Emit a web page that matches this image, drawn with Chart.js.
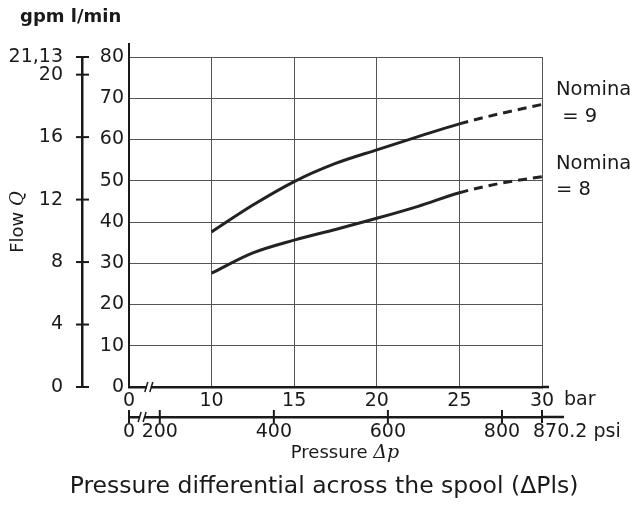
<!DOCTYPE html>
<html>
<head>
<meta charset="utf-8">
<script src="https://cdn.jsdelivr.net/npm/chart.js@4.4.0/dist/chart.umd.min.js"></script>
<style>
  html, body { margin: 0; padding: 0; background: #fff; }
  #flowChart { display: block; }
</style>
</head>
<body>
<canvas id="flowChart" width="630" height="505"></canvas>
<script>
// flow vs pressure drop
const pressureBar = [10, 12.5, 15, 17.5, 20, 22.5, 25, 27.5, 30];
const flowNominal9 = [37.6, 44.1, 49.8, 54.2, 57.5, 60.7, 63.8, 66.3, 68.5];
const flowNominal8 = [27.6, 32.5, 35.6, 38.2, 40.9, 43.8, 47.1, 49.4, 51.0];
const dashedFrom = 25; // curves are dashed past 25 bar

// axes (bar axis is broken: position 5 is labelled 0)
const barTicks = [5, 10, 15, 20, 25, 30];
const barTickLabels = ['0', '10', '15', '20', '25', '30'];
const gpmTicks = [0, 4, 8, 12, 16, 20, 21.13];
const gpmTickLabels = ['0', '4', '8', '12', '16', '20', '21,13'];
const psiTicks = [146, 200, 400, 600, 800, 870.2];
const psiTickLabels = ['0', '200', '400', '600', '800', ''];
const curveLabels = [['Nominal', ' = 9'], ['Nominal', '= 8']];

const FONT = '"DejaVu Sans", sans-serif';
const INK = '#1a1a1a';
const GRID = '#555';

function line(ctx, x1, y1, x2, y2) {
    ctx.beginPath();
    ctx.moveTo(x1, y1);
    ctx.lineTo(x2, y2);
    ctx.stroke();
}

function brk(ctx, px, py) {
    ctx.fillStyle = '#fff';
    ctx.fillRect(px - 2, py - 2.5, 4, 5);
    ctx.lineWidth = 1.5;
    line(ctx, px - 4, py + 5, px - 1, py - 5);
    line(ctx, px + 1, py + 5, px + 4, py - 5);
}

const extras = {
    id: 'extras',
    afterDraw(chart) {
        const ctx = chart.ctx;
        const { x, y, yG, xP } = chart.scales;
        const area = chart.chartArea;
        ctx.save();
        ctx.strokeStyle = INK;
        ctx.fillStyle = INK;

        // axis lines running past the plot
        ctx.lineWidth = 2;
        line(ctx, area.left, area.top, area.left, area.top - 14);
        ctx.lineWidth = 2.5;
        line(ctx, area.right, area.bottom, area.right + 7, area.bottom);
        line(ctx, xP.right, xP.top, xP.right + 22, xP.top);

        // crossing tick marks
        ctx.lineWidth = 2;
        gpmTicks.forEach(v => {
            const py = yG.getPixelForValue(v);
            line(ctx, yG.right - 6, py, yG.right + 7, py);
        });
        psiTicks.forEach(v => {
            const px = xP.getPixelForValue(v);
            line(ctx, px, xP.top - 7, px, xP.top + 6);
        });

        // axis breaks
        brk(ctx, x.getPixelForValue(6.2), area.bottom);
        ctx.fillStyle = INK;
        brk(ctx, xP.getPixelForValue(169), xP.top);
        ctx.fillStyle = INK;

        ctx.textBaseline = 'middle';
        ctx.textAlign = 'left';

        ctx.font = 'bold 18px ' + FONT;
        ctx.fillText('gpm l/min', 20, 17);

        ctx.font = '19px ' + FONT;
        ctx.fillText('bar', x.getPixelForValue(30) + 22, 400);
        ctx.fillText('870.2 psi', xP.getPixelForValue(870.2) - 9, 432);

        // Pressure Δp
        ctx.font = '18px ' + FONT;
        const w1 = ctx.measureText('Pressure ').width;
        ctx.font = 'italic 19px "DejaVu Serif", serif';
        const w2 = ctx.measureText('Δp').width;
        let sx = 345 - (w1 + w2) / 2;
        ctx.font = '18px ' + FONT;
        ctx.fillText('Pressure ', sx, 453);
        ctx.font = 'italic 19px "DejaVu Serif", serif';
        ctx.fillText('Δp', sx + w1, 453);

        ctx.font = '23.5px ' + FONT;
        ctx.textAlign = 'center';
        ctx.fillText('Pressure differential across the spool (\u0394Pls)', 324, 487);

        // curve labels
        ctx.textAlign = 'left';
        ctx.font = '19.5px ' + FONT;
        ctx.fillText(curveLabels[0][0], 556, 90);
        ctx.fillText(curveLabels[0][1], 556, 117);
        ctx.fillText(curveLabels[1][0], 556, 164);
        ctx.fillText(curveLabels[1][1], 556, 190);

        // Flow Q, rotated
        ctx.translate(18, 222);
        ctx.rotate(-Math.PI / 2);
        ctx.font = '18px ' + FONT;
        const f1 = ctx.measureText('Flow ').width;
        ctx.font = 'italic 18px "DejaVu Serif", serif';
        const f2 = ctx.measureText('Q').width;
        ctx.font = '18px ' + FONT;
        ctx.fillText('Flow ', -(f1 + f2) / 2, 0);
        ctx.font = 'italic 18px "DejaVu Serif", serif';
        ctx.fillText('Q', -(f1 + f2) / 2 + f1, 0);

        ctx.restore();
    }
};

const curveStyle = {
    borderColor: '#222',
    borderWidth: 3,
    pointRadius: 0,
    fill: false,
    cubicInterpolationMode: 'monotone',
    xAxisID: 'x',
    yAxisID: 'y',
    segment: {
        borderDash: c => c.p0.parsed.x >= dashedFrom ? [9, 6] : undefined
    }
};

const tickFont = { family: FONT, size: 19 };

new Chart(document.getElementById('flowChart').getContext('2d'), {
    type: 'line',
    data: {
        datasets: [
            Object.assign({ label: 'Nominal 9', data: pressureBar.map((p, i) => ({ x: p, y: flowNominal9[i] })) }, curveStyle),
            Object.assign({ label: 'Nominal 8', data: pressureBar.map((p, i) => ({ x: p, y: flowNominal8[i] })) }, curveStyle)
        ]
    },
    options: {
        responsive: false,
        animation: false,
        devicePixelRatio: 1,
        layout: { padding: { left: 0, right: 88, top: 57, bottom: 58 } },
        plugins: { legend: { display: false }, tooltip: { enabled: false } },
        scales: {
            x: {
                type: 'linear', position: 'bottom', min: 5, max: 30,
                afterBuildTicks: a => { a.ticks = barTicks.map(v => ({ value: v })); },
                afterFit: a => { a.height = 30; },
                ticks: {
                    autoSkip: false, maxRotation: 0, padding: 3, color: INK, font: tickFont,
                    callback: v => barTickLabels[barTicks.indexOf(v)]
                },
                grid: { color: GRID, lineWidth: 1, drawTicks: false },
                border: { color: INK, width: 2.5 }
            },
            y: {
                type: 'linear', position: 'left', min: 0, max: 80,
                afterFit: a => { a.width = 47; },
                ticks: { stepSize: 10, padding: 5, color: INK, font: tickFont },
                grid: { color: GRID, lineWidth: 1, drawTicks: false },
                border: { color: INK, width: 2 }
            },
            yG: {
                type: 'linear', position: 'left', weight: 1, min: 0, max: 21.13,
                afterBuildTicks: a => { a.ticks = gpmTicks.map(v => ({ value: v })); },
                afterFit: a => { a.width = 82; },
                ticks: {
                    autoSkip: false, padding: 19, color: INK, font: tickFont,
                    callback: v => gpmTickLabels[gpmTicks.indexOf(v)]
                },
                grid: { drawOnChartArea: false, drawTicks: false },
                border: { color: INK, width: 2.5 }
            },
            xP: {
                type: 'linear', position: 'bottom', weight: 1, min: 146, max: 870.2,
                afterBuildTicks: a => { a.ticks = psiTicks.map(v => ({ value: v })); },
                afterFit: a => { a.height = 30; },
                ticks: {
                    autoSkip: false, maxRotation: 0, padding: 4, color: INK, font: tickFont,
                    callback: v => psiTickLabels[psiTicks.indexOf(v)]
                },
                grid: { drawOnChartArea: false, drawTicks: false },
                border: { color: INK, width: 2.5 }
            }
        }
    },
    plugins: [extras]
});
</script>
</body>
</html>
